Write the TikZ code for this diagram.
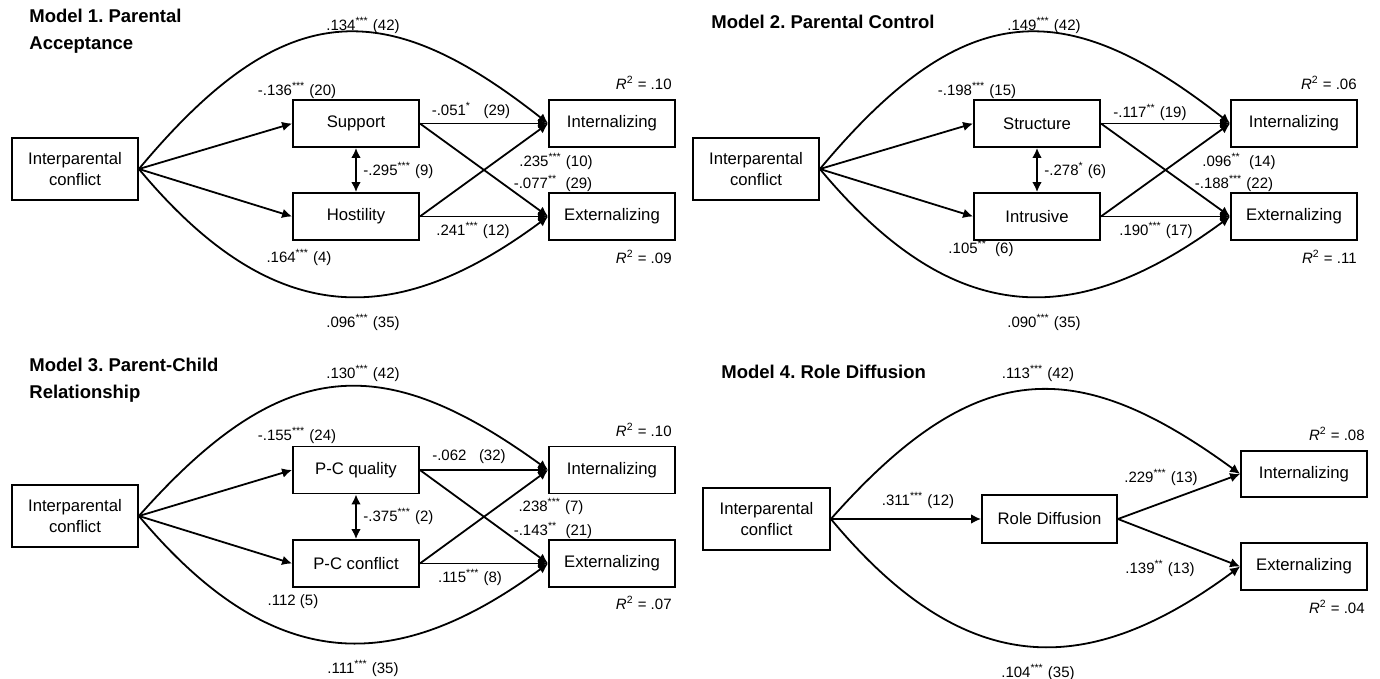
\documentclass[tikz,border=0pt]{standalone}
\usepackage{fontspec}
\setmainfont{Liberation Sans}
\usetikzlibrary{arrows.meta}
\frenchspacing
\newcommand\st[1]{\textsuperscript{#1}}
\newcommand\rsq[1]{\textit{R}\textsuperscript{2} = #1}
\begin{document}
\begin{tikzpicture}[x=0.5pt,y=-0.5pt,
  box/.style={draw,line width=0.9pt,minimum width=63pt,minimum height=23.5pt,inner sep=0pt,align=center,font=\fontsize{8.35}{10.8}\selectfont},
  ipbox/.style={box,minimum height=31pt},
  lab/.style={inner sep=0pt,font=\fontsize{7.5}{9}\selectfont},
  ttl/.style={inner sep=0pt,anchor=west,align=left,font=\fontsize{9.25}{13.5}\selectfont\bfseries},
  path/.style={line width=0.9pt,-{Latex[length=5pt,width=4.8pt]}},
  dbl/.style={line width=0.9pt,{Latex[length=5pt,width=4.8pt]}-{Latex[length=5pt,width=4.8pt]}}]
\useasboundingbox (0,0) rectangle (1380,679);
% ---------------- Model 1
\node[ttl] (t1) at (29,31.5) {Model 1. Parental\\Acceptance};
\node[ipbox] (ip1) at (75,169) {Interparental\\conflict};
\node[box] (sup1) at (356,123.5) {Support};
\node[box] (hos1) at (356,216.5) {Hostility};
\node[box] (int1) at (612,123.5) {Internalizing};
\node[box] (ext1) at (612,216.5) {Externalizing};
\draw[path] (ip1.east) -- (sup1.west);
\draw[path] (ip1.east) -- (hos1.west);
\draw[path] (sup1.east) -- (int1.west);
\draw[path] (sup1.east) -- (ext1.west);
\draw[path] (hos1.east) -- (int1.west);
\draw[path] (hos1.east) -- (ext1.west);
\draw[dbl] (sup1.south) -- (hos1.north);
\draw[path] (ip1.east) .. controls (284,-5) and (385,-5) .. (int1.west);
\draw[path] (ip1.east) .. controls (273,330) and (395,330) .. (ext1.west);
\node[lab] (a1) at (363,25) {.134\st{***} (42)};
\node[lab] (b1) at (297,90) {-.136\st{***} (20)};
\node[lab] (c1) at (299,257) {.164\st{***} (4)};
\node[lab] (d1) at (363,322) {.096\st{***} (35)};
\node[lab] (e1) at (471,110) {-.051\st{*}\ \ \ (29)};
\node[lab] (f1) at (473,230) {.241\st{***} (12)};
\node[lab] (g1) at (556,161) {.235\st{***} (10)};
\node[lab] (h1) at (553,183) {-.077\st{**}\ \ (29)};
\node[lab,anchor=west] (i1) at (363,170) {-.295\st{***} (9)};
\node[lab,anchor=east] (r1a) at (672,83) {\rsq{.10}};
\node[lab,anchor=east] (r1b) at (672,257) {\rsq{.09}};
% ---------------- Model 2
\node[ttl] (t2) at (711,22) {Model 2. Parental Control};
\node[ipbox] (ip2) at (756,169) {Interparental\\conflict};
\node[box] (str2) at (1037,123.5) {Structure};
\node[box] (itr2) at (1037,216.5) {Intrusive};
\node[box] (int2) at (1294,123.5) {Internalizing};
\node[box] (ext2) at (1294,216.5) {Externalizing};
\draw[path] (ip2.east) -- (str2.west);
\draw[path] (ip2.east) -- (itr2.west);
\draw[path] (str2.east) -- (int2.west);
\draw[path] (str2.east) -- (ext2.west);
\draw[path] (itr2.east) -- (int2.west);
\draw[path] (itr2.east) -- (ext2.west);
\draw[dbl] (str2.south) -- (itr2.north);
\draw[path] (ip2.east) .. controls (965,-5) and (1066,-5) .. (int2.west);
\draw[path] (ip2.east) .. controls (954,330) and (1076,330) .. (ext2.west);
\node[lab] (a2) at (1044,25) {.149\st{***} (42)};
\node[lab] (b2) at (977,90) {-.198\st{***} (15)};
\node[lab] (c2) at (981,248) {.105\st{**}\ \ (6)};
\node[lab] (d2) at (1044,322) {.090\st{***} (35)};
\node[lab] (e2) at (1150,112) {-.117\st{**} (19)};
\node[lab] (f2) at (1156,230) {.190\st{***} (17)};
\node[lab] (g2) at (1239,161) {.096\st{**}\ \ (14)};
\node[lab] (h2) at (1234,183) {-.188\st{***} (22)};
\node[lab,anchor=west] (i2) at (1044,170) {-.278\st{*} (6)};
\node[lab,anchor=east] (r2a) at (1357,83) {\rsq{.06}};
\node[lab,anchor=east] (r2b) at (1357,257) {\rsq{.11}};
% ---------------- Model 3
\node[ttl] (t3) at (29,380) {Model 3. Parent-Child\\Relationship};
\node[ipbox] (ip3) at (75,516) {Interparental\\conflict};
\node[box] (pq3) at (356,470) {P-C quality};
\node[box] (pc3) at (356,563.5) {P-C conflict};
\node[box] (int3) at (612,470) {Internalizing};
\node[box] (ext3) at (612,563.5) {Externalizing};
\draw[path] (ip3.east) -- (pq3.west);
\draw[path] (ip3.east) -- (pc3.west);
\draw[path] (pq3.east) -- (int3.west);
\draw[path] (pq3.east) -- (ext3.west);
\draw[path] (pc3.east) -- (int3.west);
\draw[path] (pc3.east) -- (ext3.west);
\draw[dbl] (pq3.south) -- (pc3.north);
\draw[path] (ip3.east) .. controls (284,352) and (385,352) .. (int3.west);
\draw[path] (ip3.east) .. controls (273,676) and (395,676) .. (ext3.west);
\node[lab] (a3) at (363,373) {.130\st{***} (42)};
\node[lab] (b3) at (297,435) {-.155\st{***} (24)};
\node[lab] (c3) at (293,602) {.112 (5)};
\node[lab] (d3) at (363,668) {.111\st{***} (35)};
\node[lab] (e3) at (469,457) {-.062\ \ \ (32)};
\node[lab] (f3) at (470,577) {.115\st{***} (8)};
\node[lab] (g3) at (551,506) {.238\st{***} (7)};
\node[lab] (h3) at (553,530) {-.143\st{**}\ \ (21)};
\node[lab,anchor=west] (i3) at (363,516) {-.375\st{***} (2)};
\node[lab,anchor=east] (r3a) at (672,430) {\rsq{.10}};
\node[lab,anchor=east] (r3b) at (672,603) {\rsq{.07}};
% ---------------- Model 4
\node[ttl] (t4) at (721,372) {Model 4. Role Diffusion};
\node[ipbox,minimum width=63.5pt] (ip4) at (766.5,519) {Interparental\\conflict};
\node[box,minimum width=67.5pt,minimum height=24pt] (rd4) at (1049.5,519) {Role Diffusion};
\node[box,minimum height=23pt] (int4) at (1304,474) {Internalizing};
\node[box] (ext4) at (1304,566.5) {Externalizing};
\draw[path] (ip4.east) -- (rd4.west);
\draw[path] (rd4.east) -- (int4.west);
\draw[path] (rd4.east) -- (ext4.west);
\draw[path] (ip4.east) .. controls (976,355) and (1077,355) .. (int4.west);
\draw[path] (ip4.east) .. controls (965,680) and (1087,680) .. (ext4.west);
\node[lab] (a4) at (1038,373) {.113\st{***} (42)};
\node[lab] (d4) at (1038,672) {.104\st{***} (35)};
\node[lab] (b4) at (918,500) {.311\st{***} (12)};
\node[lab] (e4) at (1161,477) {.229\st{***} (13)};
\node[lab] (f4) at (1160,568) {.139\st{**} (13)};
\node[lab,anchor=east] (r4a) at (1365,434) {\rsq{.08}};
\node[lab,anchor=east] (r4b) at (1365,607) {\rsq{.04}};
\end{tikzpicture}
\end{document}
